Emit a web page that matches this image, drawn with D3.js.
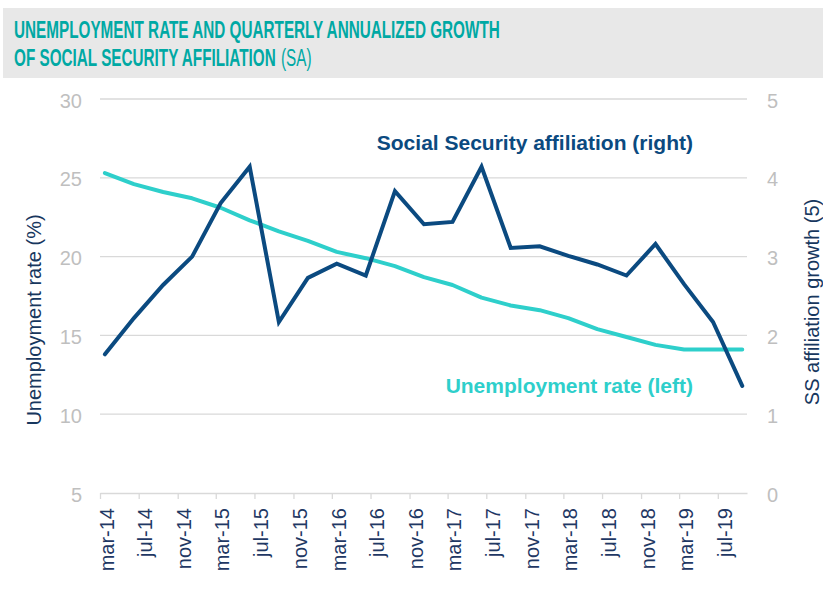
<!doctype html>
<html>
<head>
    <script src="https://d3js.org/d3.v7.min.js"></script>
    <style>
      body { margin: 0; background: #fff; }
      svg { display: block; font-family: Arial, "Liberation Sans", sans-serif; }
    </style>
</head>
<body>
    <svg id="chart" width="823" height="589"></svg>
    <script>
        // quarterly observations
        const quarters = ["mar-14","jun-14","sep-14","dec-14","mar-15","jun-15","sep-15","dec-15",
          "mar-16","jun-16","sep-16","dec-16","mar-17","jun-17","sep-17","dec-17",
          "mar-18","jun-18","sep-18","dec-18","mar-19","jun-19","sep-19"];
        const unemployment = [25.3, 24.6, 24.1, 23.7, 23.1, 22.3, 21.6, 21.0,
          20.3, 19.9, 19.4, 18.7, 18.2, 17.4, 16.9, 16.6,
          16.1, 15.4, 14.9, 14.4, 14.1, 14.1, 14.1];
        const affiliation = [1.76, 2.22, 2.64, 3.0, 3.68, 4.14, 2.17, 2.73,
          2.91, 2.76, 3.83, 3.41, 3.44, 4.14, 3.11, 3.13,
          3.01, 2.9, 2.76, 3.16, 2.65, 2.17, 1.36];
        const tickLabels = ["mar-14","jul-14","nov-14","mar-15","jul-15","nov-15","mar-16","jul-16",
          "nov-16","mar-17","jul-17","nov-17","mar-18","jul-18","nov-18","mar-19","jul-19"];
        const leftTicks = [5, 10, 15, 20, 25, 30];
        const rightTicks = [0, 1, 2, 3, 4, 5];

        const parseMonth = d3.timeParse("%b-%y");
        const midMonth = s => {
          const d = parseMonth(s);
          return new Date((+d + +d3.timeMonth.offset(d, 1)) / 2);
        };

        const margin = { top: 99, left: 100 };
        const width = 647, height = 394;

        const svg = d3.select("#chart");

        // title band
        svg.append("rect")
          .attr("x", 3).attr("y", 8)
          .attr("width", 820).attr("height", 70)
          .attr("fill", "#e8e8e8");

        // no narrow font installed, so squeeze the title horizontally
        const titleG = svg.append("g");
        const titleText = (y, bold, str) => titleG.append("text")
          .attr("y", y)
          .attr("font-size", 24)
          .attr("font-weight", bold ? "bold" : "normal")
          .attr("fill", "#00a9a4")
          .text(str);
        const t1 = titleText(38, true, "UNEMPLOYMENT RATE AND QUARTERLY ANNUALIZED GROWTH");
        const t2 = titleText(66, true, "OF SOCIAL SECURITY AFFILIATION");
        const t3 = titleText(66, false, "(SA)");
        const squeeze = 486 / t1.node().getComputedTextLength();
        t3.attr("x", t2.node().getComputedTextLength() + 8);
        titleG.attr("transform", `translate(14,0) scale(${squeeze},1)`);

        const g = svg.append("g")
          .attr("transform", `translate(${margin.left},${margin.top})`);

        const x = d3.scaleTime()
          .domain([parseMonth(quarters[0]), d3.timeMonth.offset(parseMonth(quarters[quarters.length - 1]), 1)])
          .range([0, width]);
        const yLeft = d3.scaleLinear().domain([5, 30]).range([height, 0]);
        const yRight = d3.scaleLinear().domain([0, 5]).range([height, 0]);

        // gridlines
        g.append("g")
          .selectAll("line")
          .data(leftTicks.slice(1))
          .join("line")
          .attr("x1", 0).attr("x2", width)
          .attr("y1", d => yLeft(d)).attr("y2", d => yLeft(d))
          .attr("stroke", "#d9d9d9").attr("stroke-width", 1.3);

        // left axis
        const leftAxis = g.append("g")
          .attr("transform", "translate(-18,0)")
          .call(d3.axisLeft(yLeft).tickValues(leftTicks).tickFormat(d3.format("d")).tickSize(0).tickPadding(0));
        leftAxis.select(".domain").remove();
        leftAxis.selectAll("text")
          .attr("fill", "#bfbfbf").attr("font-size", 20).attr("dy", "0.4em")
          .attr("font-family", "Arial, 'Liberation Sans', sans-serif");

        // right axis
        const rightAxis = g.append("g")
          .attr("transform", `translate(${width + 20},0)`)
          .call(d3.axisRight(yRight).tickValues(rightTicks).tickFormat(d3.format("d")).tickSize(0).tickPadding(0));
        rightAxis.select(".domain").remove();
        rightAxis.selectAll("text")
          .attr("fill", "#bfbfbf").attr("font-size", 20).attr("dy", "0.4em")
          .attr("font-family", "Arial, 'Liberation Sans', sans-serif");

        // x axis
        const xAxis = g.append("g")
          .attr("transform", `translate(0,${height})`)
          .call(d3.axisBottom(x)
            .tickValues(tickLabels.map(parseMonth))
            .tickFormat(d3.timeFormat("%b-%y"))
            .tickSize(6)
            .tickSizeOuter(0));
        xAxis.select(".domain").attr("stroke", "#d9d9d9").attr("stroke-width", 1.3);
        xAxis.selectAll(".tick line").attr("stroke", "#d9d9d9").attr("stroke-width", 1.3);
        xAxis.selectAll("text")
          .text((d, i) => tickLabels[i])
          .attr("fill", "#1f3864").attr("font-size", 20)
          .attr("font-family", "Arial, 'Liberation Sans', sans-serif")
          .attr("text-anchor", "end")
          .attr("transform", "rotate(-90)")
          .attr("x", -15).attr("y", 6).attr("dy", "0.36em");

        // lines
        const unempLine = d3.line()
          .x((d, i) => x(midMonth(quarters[i])))
          .y(d => yLeft(d));
        const affLine = d3.line()
          .x((d, i) => x(midMonth(quarters[i])))
          .y(d => yRight(d));

        g.append("path")
          .datum(unemployment)
          .attr("fill", "none")
          .attr("stroke", "#2ecfcb")
          .attr("stroke-width", 4)
          .attr("stroke-linejoin", "round")
          .attr("stroke-linecap", "round")
          .attr("d", unempLine);

        g.append("path")
          .datum(affiliation)
          .attr("fill", "none")
          .attr("stroke", "#0b4a80")
          .attr("stroke-width", 4)
          .attr("stroke-linejoin", "miter")
          .attr("stroke-linecap", "round")
          .attr("d", affLine);

        // series labels
        svg.append("text")
          .attr("x", 693).attr("y", 150)
          .attr("text-anchor", "end")
          .attr("font-size", 21).attr("font-weight", "bold")
          .attr("fill", "#0b4a80")
          .text("Social Security affiliation (right)");

        svg.append("text")
          .attr("x", 693).attr("y", 393)
          .attr("text-anchor", "end")
          .attr("font-size", 21).attr("font-weight", "bold")
          .attr("fill", "#2ecfcb")
          .text("Unemployment rate (left)");

        // axis titles
        svg.append("text")
          .attr("transform", "translate(41,320) rotate(-90)")
          .attr("text-anchor", "middle")
          .attr("font-size", 20)
          .attr("fill", "#17375e")
          .text("Unemployment rate (%)");

        svg.append("text")
          .attr("transform", "translate(819,302) rotate(-90)")
          .attr("text-anchor", "middle")
          .attr("font-size", 20)
          .attr("fill", "#17375e")
          .text("SS affiliation growth (5)");
    </script>
</body>
</html>
